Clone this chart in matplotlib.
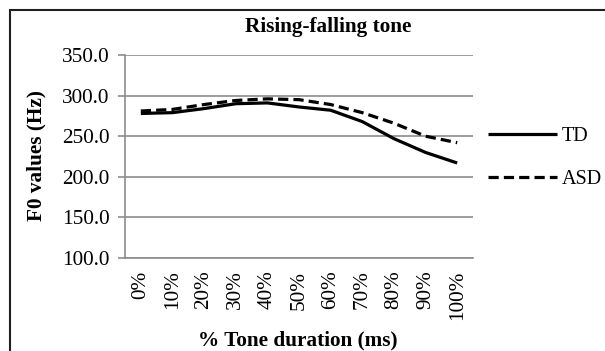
import numpy as np
import matplotlib.pyplot as plt
from matplotlib.patches import Rectangle

# Chart data.
CATEGORIES = ["0%", "10%", "20%", "30%", "40%", "50%", "60%", "70%", "80%", "90%", "100%"]
TD_F0 = [278, 279, 284, 290, 291, 286, 282, 268, 247, 230, 217]  # [Hz]
ASD_F0 = [281, 283, 289, 294, 296, 295, 289, 279, 266, 250, 242]  # [Hz]
Y_TICKS = [100, 150, 200, 250, 300, 350]

plt.rcParams['font.family'] = ['Liberation Serif', 'DejaVu Serif']
FS = 15.3  # font size used for the chart text [pt]
FS_LEGEND = 14.5  # a little smaller so "ASD" stays inside the picture

W, H = 605, 351
fig = plt.figure(figsize=(W / 100.0, H / 100.0), dpi=100)

# Plot area in pixels: left, top, right, bottom.
L, T, R, B = 125, 55, 473, 258
ax = fig.add_axes([L / W, 1 - B / H, (R - L) / W, (B - T) / H])

x = np.arange(len(CATEGORIES))
ax.plot(x, TD_F0, color='black', lw=2.3, solid_capstyle='butt', label="TD")
ax.plot(x, ASD_F0, color='black', lw=2.3, ls=(0, (3.2, 1.6)), label="ASD")

ax.set_xlim(-0.5, len(CATEGORIES) - 0.5)
ax.set_ylim(100, 350)
ax.set_yticks(Y_TICKS)
ax.set_yticklabels(["{:.1f}".format(v) for v in Y_TICKS])
ax.set_xticks(x)
ax.set_xticklabels(CATEGORIES, rotation=90)
ax.tick_params(axis='x', length=0, pad=9, labelsize=FS)
ax.tick_params(axis='y', length=5, width=1.2, color='#8c8c8c', pad=6, labelsize=FS)

ax.grid(axis='y', color='#8c8c8c', lw=1.2)
ax.set_axisbelow(True)
for side in ('top', 'right'):
    ax.spines[side].set_visible(False)
for side in ('left', 'bottom'):
    ax.spines[side].set_color('#8c8c8c')
    ax.spines[side].set_linewidth(1.2)

fig.text(36 / W, 1 - 156 / H, "F0 values (Hz)", ha='center', va='center', rotation=90,
         fontsize=FS, fontweight='bold')
fig.text(298 / W, 1 - 340 / H, "% Tone duration (ms)", ha='center', va='center',
         fontsize=FS, fontweight='bold')
fig.text(328 / W, 1 - 27 / H, "Rising-falling tone", ha='center', va='center',
         fontsize=FS, fontweight='bold')

ax.legend(loc='center left', bbox_to_anchor=(488 / W, 1 - 158 / H), bbox_transform=fig.transFigure,
          frameon=False, fontsize=FS_LEGEND, handlelength=3.43, handletextpad=0.25, labelspacing=1.2,
          borderpad=0, borderaxespad=0)

# outer chart border (right and bottom edges fall outside the picture)
fig.patches.append(Rectangle((9.5 / W, -0.1), 1.2, 1 - 9.5 / H + 0.1, transform=fig.transFigure,
                             fill=False, edgecolor='#202020', lw=1.5))

fig.savefig("out.png", dpi=100)
